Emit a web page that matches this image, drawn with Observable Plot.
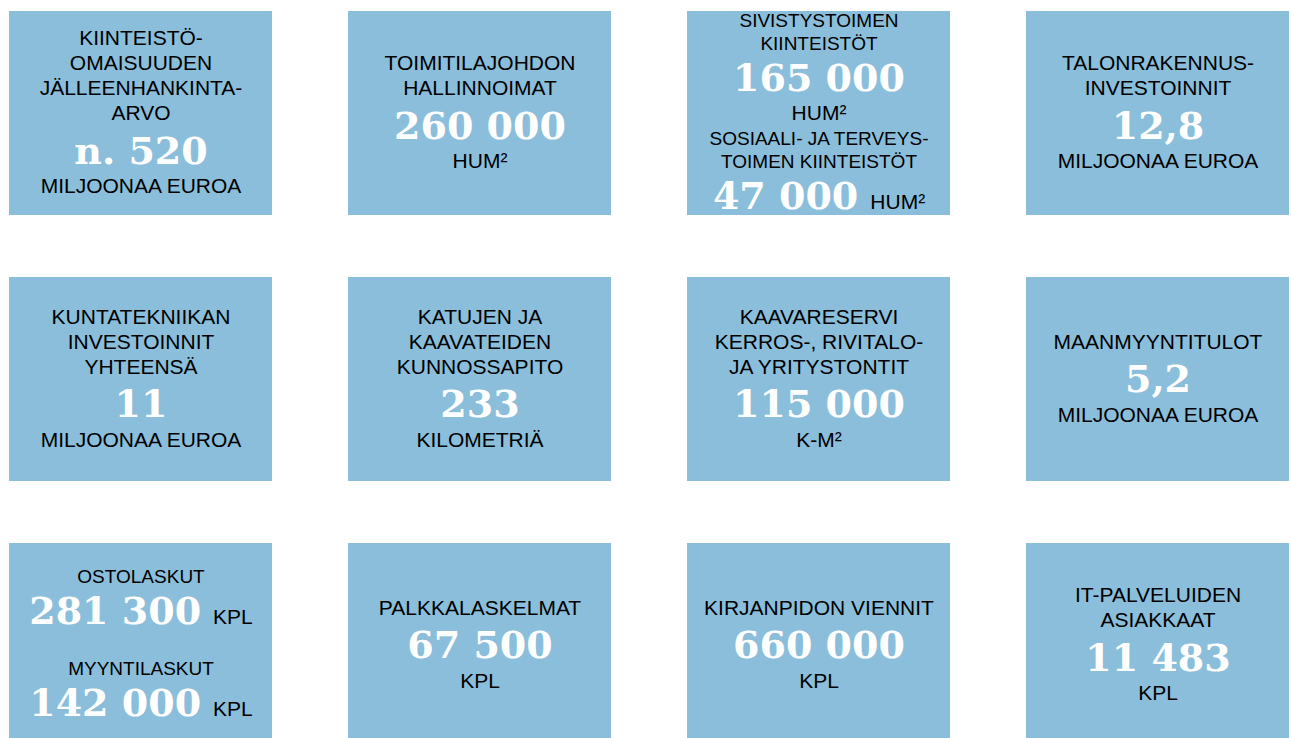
<!DOCTYPE html>
<html><head><meta charset="utf-8">
<script src="https://cdn.jsdelivr.net/npm/d3@7"></script>
<script src="https://cdn.jsdelivr.net/npm/@observablehq/plot@0.6"></script>
<style>
body{margin:0;background:#fff}
#chart svg{overflow:hidden;display:block}
</style>
</head><body><div id="chart"></div>
<script>
// ---- DATA ----
const entryTile = [0, 1, 2, 2, 3, 4, 5, 6, 7, 8, 8, 9, 10, 11];
const entryLabel = [
  ["KIINTEISTÖ-", "OMAISUUDEN", "JÄLLEENHANKINTA-", "ARVO"],
  ["TOIMITILAJOHDON", "HALLINNOIMAT"],
  ["SIVISTYSTOIMEN", "KIINTEISTÖT"],
  ["SOSIAALI- JA TERVEYS-", "TOIMEN KIINTEISTÖT"],
  ["TALONRAKENNUS-", "INVESTOINNIT"],
  ["KUNTATEKNIIKAN", "INVESTOINNIT", "YHTEENSÄ"],
  ["KATUJEN JA", "KAAVATEIDEN", "KUNNOSSAPITO"],
  ["KAAVARESERVI", "KERROS-, RIVITALO-", "JA YRITYSTONTIT"],
  ["MAANMYYNTITULOT"],
  ["OSTOLASKUT"],
  ["MYYNTILASKUT"],
  ["PALKKALASKELMAT"],
  ["KIRJANPIDON VIENNIT"],
  ["IT-PALVELUIDEN", "ASIAKKAAT"]
];
const entryValue = ["n. 520", "260 000", "165 000", "47 000", "12,8", "11", "233", "115 000", "5,2", "281 300", "142 000", "67 500", "660 000", "11 483"];
const entryUnit = ["MILJOONAA EUROA", "HUM²", "HUM²", "HUM²", "MILJOONAA EUROA", "MILJOONAA EUROA", "KILOMETRIÄ", "K-M²", "MILJOONAA EUROA", "KPL", "KPL", "KPL", "KPL", "KPL"];
const entryUnitInline = [false, false, false, true, false, false, false, false, false, true, true, false, false, false];

// ---- LAYOUT ----
const W = 1291, H = 738;
const TILE = "#8abedb";
const SANS = "Liberation Sans, Arial, sans-serif";
const SERIF = "DejaVu Serif, Georgia, serif";
const NUM_SIZE = 38, LAB_SIZE = 21, SMALL_SIZE = 19;

const nTiles = d3.max(entryTile) + 1;
const tiles = d3.range(nTiles).map(i => ({col: i % 4, row: Math.floor(i / 4)}));

const ctx = document.createElement("canvas").getContext("2d");
function measure(text, font) { ctx.font = font; return ctx.measureText(text).width; }

const lines = [];
for (let t = 0; t < nTiles; t++) {
  const ents = d3.range(entryTile.length).filter(e => entryTile[e] === t);
  const small = ents.length > 1;
  const lf = small ? SMALL_SIZE : LAB_SIZE;
  const seq = [];
  ents.forEach(e => {
    entryLabel[e].forEach(s => seq.push({kind: "label", text: s, size: lf}));
    if (entryUnitInline[e]) seq.push({kind: "inline", text: entryValue[e], unit: entryUnit[e]});
    else {
      seq.push({kind: "value", text: entryValue[e]});
      seq.push({kind: "unit", text: entryUnit[e], size: LAB_SIZE});
    }
  });
  let y = 0; const ys = [0];
  for (let k = 1; k < seq.length; k++) {
    const a = seq[k - 1].kind, b = seq[k].kind;
    let g;
    if (b === "label") g = a === "label" ? (small ? 23 : 25) : a === "inline" ? 57 : 25;
    else if (b === "value" || b === "inline") g = small ? 35 : 38;
    else g = 35;
    y += g; ys.push(y);
  }
  const off = -y / 2 - 1 - (small ? 4 : 0);
  seq.forEach((s, k) => lines.push({...s, col: t % 4, row: Math.floor(t / 4), dy: ys[k] + off}));
}

const marks = [
  Plot.cell(tiles, {x: "col", y: "row", fill: TILE, inset: 0})
];
for (const L of lines) {
  const common = {x: "col", y: "row", dy: L.dy, lineAnchor: "middle"};
  if (L.kind === "label" || L.kind === "unit") {
    marks.push(Plot.text([L], {...common, text: "text", fontSize: L.size, fontFamily: SANS, fill: "#000"}));
  } else if (L.kind === "value") {
    marks.push(Plot.text([L], {...common, text: "text", fontSize: NUM_SIZE, fontFamily: SERIF, fontWeight: "bold", fill: "#fff"}));
  } else {
    const wv = measure(L.text, `bold ${NUM_SIZE}px ${SERIF}`);
    const wu = measure(L.unit, `${LAB_SIZE}px ${SANS}`);
    const gap = 12;
    const start = -(wv + gap + wu) / 2;
    const baseShift = 0.32 * NUM_SIZE - 0.32 * LAB_SIZE;
    marks.push(Plot.text([L], {...common, text: "text", textAnchor: "start", dx: start, fontSize: NUM_SIZE, fontFamily: SERIF, fontWeight: "bold", fill: "#fff"}));
    marks.push(Plot.text([L], {...common, dy: L.dy + baseShift, text: d => d.unit, textAnchor: "start", dx: start + wv + gap, fontSize: LAB_SIZE, fontFamily: SANS, fill: "#000"}));
  }
}

const chart = Plot.plot({
  width: W, height: H,
  margin: 0,
  style: {background: "#fff", overflow: "hidden"},
  x: {type: "band", domain: [0, 1, 2, 3], range: [8, 1289], paddingInner: 0.225, paddingOuter: 0, axis: null},
  y: {type: "band", domain: [0, 1, 2], range: [10, 748], paddingInner: 0.232, paddingOuter: 0, axis: null},
  marks
});
document.getElementById("chart").appendChild(chart);
</script>
</body></html>
